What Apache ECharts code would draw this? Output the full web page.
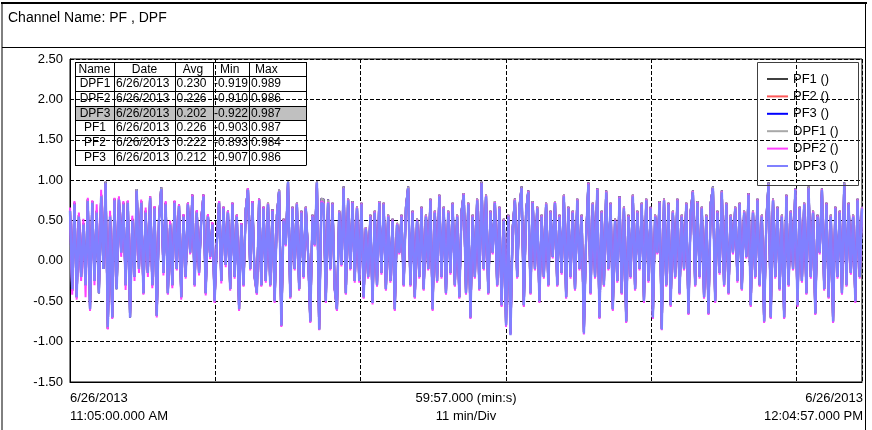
<!DOCTYPE html>
<html><head><meta charset="utf-8">
<script src="https://cdn.jsdelivr.net/npm/echarts@6/dist/echarts.min.js"></script>
<style>html,body{margin:0;padding:0;background:#fff}#c{width:872px;height:430px}</style>
</head><body><div id="c"></div>
<script>
// ---- data ----
const titleText = 'Channel Name: PF , DPF';
const seriesNames = ['PF1 ()', 'PF2 ()', 'PF3 ()', 'DPF1 ()', 'DPF2 ()', 'DPF3 ()'];
const seriesColors = ['#404040', '#ff5a5a', '#0000ff', '#a8a8a8', '#ff40ff', '#8080ff'];
const durationSec = 3597;            // 59:57.000
const divisionSec = 660;             // 11 min/Div
const yMin = -1.5, yMax = 2.5, yStep = 0.5;
const xLabelStart = ['6/26/2013', '11:05:00.000 AM'];
const xLabelMid = ['59:57.000 (min:s)', '11 min/Div'];
const xLabelEnd = ['6/26/2013', '12:04:57.000 PM'];
const tableHeader = ['Name', 'Date', 'Avg', 'Min', 'Max'];
const tableRows = [
  ['DPF1', '6/26/2013', '0.230', '-0.919', '0.989'],
  ['DPF2', '6/26/2013', '0.226', '-0.910', '0.986'],
  ['DPF3', '6/26/2013', '0.202', '-0.922', '0.987'],
  ['PF1', '6/26/2013', '0.226', '-0.903', '0.987'],
  ['PF2', '6/26/2013', '0.222', '-0.893', '0.984'],
  ['PF3', '6/26/2013', '0.212', '-0.907', '0.986']
];
const highlightedRow = 2;

const dpf3Values = [
0.62,-0.35,0.70,-0.45,0.55,-0.20,0.45,-0.30,0.74,-0.60,
0.72,-0.25,0.60,-0.40,0.80,-0.10,0.96,-0.82,0.55,-0.70,
0.75,-0.35,0.76,0.10,0.70,-0.30,0.72,-0.70,0.50,-0.20,
0.87,-0.10,0.72,-0.40,0.60,-0.15,0.78,-0.30,0.65,-0.68,
0.50,0.89,-0.15,0.70,-0.40,0.45,-0.30,0.72,-0.10,0.68,
-0.45,0.55,-0.20,0.70,0.10,0.80,-0.30,0.60,-0.15,0.50,
0.80,-0.40,0.55,0.05,0.45,-0.50,0.20,0.72,-0.25,0.65,
-0.05,0.60,-0.35,0.70,-0.20,0.55,-0.60,0.45,-0.30,0.62,
0.88,-0.10,0.72,-0.20,-0.40,0.75,-0.30,0.65,-0.25,
0.70,-0.30,0.62,-0.50,0.55,0.86,-0.80,0.50,0.20,0.98,
-0.45,0.65,-0.10,0.70,-0.35,0.60,-0.20,0.65,0.10,-0.75,
0.55,0.20,0.97,-0.85,0.72,0.70,-0.50,0.72,-0.10,0.70,
-0.35,-0.60,0.60,-0.05,0.90,-0.40,0.75,-0.10,0.72,-0.25,
0.65,-0.25,0.70,-0.45,0.40,-0.20,0.55,-0.52,0.60,-0.30,
0.72,-0.15,0.70,-0.35,0.55,-0.25,0.50,-0.60,0.45,0.10,
0.55,-0.30,0.65,0.90,-0.30,0.60,-0.45,0.50,-0.20,0.65,
-0.35,0.55,-0.10,0.75,-0.60,0.60,-0.25,0.80,-0.20,0.65,
-0.40,0.60,-0.15,0.70,-0.30,0.55,-0.45,0.60,
0.82,-0.40,0.70,-0.70,0.55,-0.20,0.75,-0.35,0.96,-0.10,
0.80,-0.40,0.60,0.10,0.72,-0.30,0.65,-0.55,0.50,-0.80,
0.55,-0.92,0.40,0.75,-0.20,0.65,0.90,-0.55,0.60,0.85,
-0.40,0.72,-0.10,0.65,-0.50,0.55,-0.20,0.70,-0.30,0.60,
0.05,0.72,-0.30,0.55,-0.15,0.80,-0.45,0.65,-0.20,0.60,
-0.35,0.75,-0.10,0.55,-0.90,0.30,0.95,-0.40,0.70,-0.20,
0.88,-0.70,0.60,-0.30,0.85,-0.10,0.70,-0.60,0.50,-0.25,
0.78,-0.40,0.65,-0.75,0.55,-0.20,0.80,-0.35,0.60,-0.10,
0.70,-0.50,0.75,-0.25,0.65,-0.70,0.55,0.10,0.72,
-0.85,0.75,-0.30,0.70,-0.55,0.60,-0.20,0.75,-0.40,0.55,
-0.10,0.70,-0.65,0.60,0.85,-0.30,0.72,-0.20,0.65,-0.45,
0.55,-0.65,0.70,0.90,-0.50,0.60,-0.15,0.85,-0.30,0.70,
-0.40,0.55,0.10,0.65,-0.25,0.70,-0.35,0.60,0.05,0.82,
-0.55,0.60,-0.20,0.75,-0.30,0.55,-0.75,0.50,0.95,-0.70,
0.75,-0.20,0.65,-0.35,0.55,-0.70,0.80,-0.30,0.60,-0.10,
0.88,-0.55,0.65,-0.25,0.70,-0.40,0.90,-0.20,0.60,-0.65,
0.55,0.10,0.88,-0.35,0.70,-0.45,0.55,-0.75,0.65,-0.20,
0.60,-0.40,0.95,-0.30,0.70,-0.15,0.55,-0.50,0.75,-0.20,
0.65
];

const dpf2Values = [
0.66,-0.42,0.74,-0.48,0.60,-0.25,0.52,-0.45,0.78,-0.62,
0.75,-0.30,0.70,-0.35,0.88,-0.05,0.95,-0.85,0.62,-0.72,
0.78,-0.30,0.80,0.05,0.74,-0.36,0.75,-0.66,0.56,-0.25,
0.86,-0.15,0.76,-0.42,0.66,-0.20,0.80,-0.34,0.68,-0.70,
0.55,0.88,-0.18,0.74,-0.42,0.50,-0.34,0.75,-0.12,0.70,
-0.48,0.58,-0.22,0.72,0.08,0.82,-0.32,0.63,-0.18,0.54,
0.82,-0.43,0.58,0.02,0.48,-0.52,0.22,0.74,-0.28,0.67,
-0.08,0.62,-0.37,0.72,-0.22,0.57,-0.62,0.47,-0.32,0.64,
0.90,-0.12,0.74,-0.22,-0.42,0.77,-0.32,0.67,-0.27,
0.71,-0.32,0.63,-0.52,0.56,0.86,-0.82,0.51,0.18,0.97,
-0.47,0.66,-0.12,0.71,-0.37,0.61,-0.22,0.66,0.08,-0.77,
0.56,0.18,0.96,-0.86,0.74,0.71,-0.52,0.73,-0.12,0.71,
-0.37,-0.62,0.61,-0.07,0.90,-0.42,0.76,-0.12,0.73,-0.27,
0.66,-0.27,0.71,-0.47,0.41,-0.22,0.56,-0.54,0.61,-0.32,
0.73,-0.17,0.71,-0.37,0.56,-0.27,0.51,-0.62,0.46,0.08,
0.56,-0.32,0.66,0.90,-0.32,0.61,-0.47,0.51,-0.22,0.66,
-0.37,0.56,-0.12,0.76,-0.62,0.61,-0.27,0.81,-0.22,0.66,
-0.42,0.61,-0.17,0.71,-0.32,0.56,-0.47,0.61,
0.83,-0.42,0.71,-0.72,0.56,-0.22,0.76,-0.37,0.96,-0.12,
0.81,-0.42,0.61,0.08,0.73,-0.32,0.66,-0.57,0.51,-0.82,
0.56,-0.91,0.41,0.76,-0.22,0.66,0.90,-0.57,0.61,0.86,
-0.42,0.73,-0.12,0.66,-0.52,0.56,-0.22,0.71,-0.32,0.61,
0.03,0.73,-0.32,0.56,-0.17,0.81,-0.47,0.66,-0.22,0.61,
-0.37,0.76,-0.12,0.56,-0.91,0.28,0.96,-0.42,0.71,-0.22,
0.89,-0.72,0.61,-0.32,0.86,-0.12,0.71,-0.62,0.51,-0.27,
0.79,-0.42,0.66,-0.77,0.56,-0.22,0.81,-0.37,0.61,-0.12,
0.71,-0.52,0.76,-0.27,0.66,-0.72,0.56,0.08,0.73,
-0.86,0.76,-0.32,0.71,-0.57,0.61,-0.22,0.76,-0.42,0.56,
-0.12,0.71,-0.67,0.61,0.86,-0.32,0.73,-0.22,0.66,-0.47,
0.56,-0.67,0.71,0.90,-0.52,0.61,-0.17,0.86,-0.32,0.71,
-0.42,0.56,0.08,0.66,-0.27,0.71,-0.37,0.61,0.03,0.83,
-0.57,0.61,-0.22,0.76,-0.32,0.56,-0.77,0.51,0.95,-0.72,
0.76,-0.22,0.66,-0.37,0.56,-0.72,0.81,-0.32,0.61,-0.12,
0.89,-0.57,0.66,-0.27,0.71,-0.42,0.90,-0.22,0.61,-0.67,
0.56,0.08,0.89,-0.37,0.71,-0.47,0.56,-0.77,0.66,-0.22,
0.61,-0.42,0.95,-0.32,0.71,-0.17,0.56,-0.52,0.76,-0.22,
0.66
];

// PF1, PF2, PF3 and DPF1 overlap almost exactly underneath DPF3
const pfValues = [
0.64,-0.37,0.72,-0.45,0.57,-0.20,0.47,-0.30,0.76,-0.60,
0.74,-0.25,0.62,-0.40,0.82,-0.10,0.98,-0.84,0.57,-0.70,
0.77,-0.35,0.78,0.10,0.72,-0.30,0.74,-0.70,0.52,-0.20,
0.89,-0.10,0.74,-0.40,0.62,-0.15,0.80,-0.30,0.67,-0.68,
0.52,0.91,-0.15,0.72,-0.40,0.47,-0.30,0.74,-0.10,0.70,
-0.45,0.57,-0.20,0.72,0.10,0.82,-0.30,0.62,-0.15,0.52,
0.82,-0.40,0.57,0.05,0.47,-0.50,0.22,0.74,-0.25,0.67,
-0.05,0.62,-0.35,0.72,-0.20,0.57,-0.60,0.47,-0.30,0.64,
0.90,-0.10,0.74,-0.20,-0.40,0.77,-0.30,0.67,-0.25,
0.73,-0.30,0.64,-0.50,0.57,0.88,-0.80,0.52,0.20,0.99,
-0.45,0.67,-0.10,0.72,-0.35,0.62,-0.20,0.67,0.10,-0.75,
0.57,0.20,0.98,-0.85,0.77,0.76,-0.50,0.76,-0.10,0.72,
-0.35,-0.60,0.62,-0.05,0.92,-0.40,0.77,-0.10,0.74,-0.25,
0.67,-0.25,0.72,-0.45,0.42,-0.20,0.57,-0.52,0.62,-0.30,
0.74,-0.15,0.72,-0.35,0.57,-0.25,0.52,-0.60,0.47,0.10,
0.57,-0.30,0.67,0.92,-0.30,0.62,-0.45,0.52,-0.20,0.67,
-0.35,0.57,-0.10,0.77,-0.60,0.62,-0.25,0.82,-0.20,0.67,
-0.40,0.62,-0.15,0.72,-0.30,0.57,-0.45,0.62,
0.84,-0.40,0.72,-0.70,0.57,-0.20,0.77,-0.35,0.98,-0.10,
0.82,-0.40,0.62,0.10,0.74,-0.30,0.67,-0.55,0.52,-0.80,
0.57,-0.90,0.42,0.77,-0.20,0.67,0.92,-0.55,0.62,0.87,
-0.40,0.74,-0.10,0.67,-0.50,0.57,-0.20,0.72,-0.30,0.62,
0.05,0.74,-0.30,0.57,-0.15,0.82,-0.45,0.67,-0.20,0.62,
-0.35,0.77,-0.10,0.57,-0.88,0.30,0.97,-0.40,0.72,-0.20,
0.90,-0.70,0.62,-0.30,0.87,-0.10,0.72,-0.60,0.52,-0.25,
0.80,-0.40,0.67,-0.75,0.57,-0.20,0.82,-0.35,0.62,-0.10,
0.72,-0.50,0.77,-0.25,0.67,-0.70,0.57,0.10,0.74,
-0.84,0.77,-0.30,0.72,-0.55,0.62,-0.20,0.77,-0.40,0.57,
-0.10,0.72,-0.65,0.62,0.87,-0.30,0.74,-0.20,0.67,-0.45,
0.57,-0.65,0.72,0.92,-0.50,0.62,-0.15,0.87,-0.30,0.72,
-0.40,0.57,0.10,0.67,-0.25,0.72,-0.35,0.62,0.05,0.84,
-0.55,0.62,-0.20,0.77,-0.30,0.57,-0.75,0.52,0.97,-0.70,
0.77,-0.20,0.67,-0.35,0.57,-0.70,0.82,-0.30,0.62,-0.10,
0.90,-0.55,0.67,-0.25,0.72,-0.40,0.92,-0.20,0.62,-0.65,
0.57,0.10,0.90,-0.35,0.72,-0.45,0.57,-0.75,0.67,-0.20,
0.62,-0.40,0.97,-0.30,0.72,-0.15,0.57,-0.50,0.77,-0.20,
0.67
];

const seriesValues = [pfValues, pfValues, pfValues, pfValues, dpf2Values, dpf3Values];

// ---- chart ----
const FONT = 'Liberation Sans, Arial, sans-serif';
const chart = echarts.init(document.getElementById('c'), null, { renderer: 'canvas' });

function toPairs(values) {
  const n = values.length;
  return values.map((v, i) => [i * durationSec / (n - 1), v]);
}

const series = seriesNames.map((name, k) => ({
  name: name,
  type: 'line',
  data: toPairs(seriesValues[k]),
  symbol: 'none',
  silent: true,
  animation: false,
  color: seriesColors[k],
  lineStyle: { width: k === 5 ? 2.4 : 2, color: seriesColors[k] },
  z: 2 + k
}));

// table graphics
const colX = [75, 114, 175, 213, 249, 306];
const rowY = [62, 76, 91, 106, 120, 135, 150, 165];
const headerX = [{ x: 94.5, a: 'center' }, { x: 144.5, a: 'center' }, { x: 193, a: 'center' }, { x: 220, a: 'left' }, { x: 255, a: 'left' }];
const cellX = [{ x: 95, a: 'center' }, { x: 116, a: 'left' }, { x: 176.5, a: 'left' }, { x: 214, a: 'left' }, { x: 251, a: 'left' }];
const TABLE_FONT = '12px ' + FONT;
const graphics = [];
// frame
graphics.push({ type: 'line', shape: { x1: 1, y1: 3, x2: 867, y2: 3 }, style: { stroke: '#000', lineWidth: 2 }, z: 100 });
graphics.push({ type: 'line', shape: { x1: 2, y1: 3, x2: 2, y2: 430 }, style: { stroke: '#000', lineWidth: 1 }, z: 100 });
graphics.push({ type: 'line', shape: { x1: 865.5, y1: 3, x2: 865.5, y2: 430 }, style: { stroke: '#000', lineWidth: 1 }, z: 100 });
graphics.push({ type: 'line', shape: { x1: 2, y1: 47.5, x2: 866, y2: 47.5 }, style: { stroke: '#000', lineWidth: 1 }, z: 100 });
graphics.push({ type: 'text', x: 8, y: 18, style: { text: titleText, font: '14px ' + FONT, fill: '#000', textVerticalAlign: 'middle' }, z: 100 });
// highlighted row
graphics.push({ type: 'rect', shape: { x: colX[0], y: rowY[highlightedRow + 1], width: colX[5] - colX[0], height: rowY[highlightedRow + 2] - rowY[highlightedRow + 1] }, style: { fill: '#c0c0c0' }, z: 100 });
// table grid
for (let r = 0; r < rowY.length; r++) {
  graphics.push({ type: 'line', shape: { x1: colX[0], y1: rowY[r] + 0.5, x2: colX[5], y2: rowY[r] + 0.5 }, style: { stroke: '#000', lineWidth: 1 }, z: 101 });
}
for (let c = 0; c < colX.length; c++) {
  graphics.push({ type: 'line', shape: { x1: colX[c] + 0.5, y1: rowY[0], x2: colX[c] + 0.5, y2: rowY[rowY.length - 1] + 0.5 }, style: { stroke: '#000', lineWidth: 1 }, z: 101 });
}
tableHeader.forEach((t, c) => {
  graphics.push({ type: 'text', x: headerX[c].x, y: (rowY[0] + rowY[1]) / 2 + 0.5, style: { text: t, font: TABLE_FONT, fill: '#000', textAlign: headerX[c].a, textVerticalAlign: 'middle' }, z: 102 });
});
tableRows.forEach((row, r) => {
  row.forEach((t, c) => {
    graphics.push({ type: 'text', x: cellX[c].x, y: (rowY[r + 1] + rowY[r + 2]) / 2 + 0.5, style: { text: t, font: TABLE_FONT, fill: '#000', textAlign: cellX[c].a, textVerticalAlign: 'middle' }, z: 102 });
  });
});
// legend box
graphics.push({ type: 'rect', shape: { x: 757.5, y: 62.5, width: 101, height: 123 }, style: { fill: 'none', stroke: '#404040', lineWidth: 1 }, z: 100 });
// x-axis labels
function xText(lines, x, align) {
  lines.forEach((t, i) => {
    graphics.push({ type: 'text', x: x, y: 398 + i * 18.5, style: { text: t, font: '13px ' + FONT, fill: '#000', textAlign: align, textVerticalAlign: 'middle' }, z: 100 });
  });
}
xText(xLabelStart, 70, 'left');
xText(xLabelMid, 466, 'center');
xText(xLabelEnd, 863, 'right');

const dashed = { show: true, lineStyle: { color: '#000', type: [4, 2], width: 1 } };

chart.setOption({
  animation: false,
  backgroundColor: '#fff',
  textStyle: { fontFamily: FONT },
  grid: { left: 70, right: 10, top: 59, bottom: 48, show: true, borderColor: '#000', borderWidth: 1, backgroundColor: 'transparent' },
  legend: {
    orient: 'vertical', left: 767, top: 72, padding: 0,
    itemWidth: 21, itemHeight: 2, itemGap: 3.4, icon: 'rect',
    textStyle: { fontSize: 13, color: '#000', fontFamily: FONT, lineHeight: 14 },
    data: seriesNames.map((n, k) => ({ name: n, itemStyle: { color: seriesColors[k] } })),
    selectedMode: false
  },
  xAxis: {
    type: 'value', min: 0, max: durationSec, interval: divisionSec,
    axisLine: { show: true, onZero: false, lineStyle: { color: '#000' } },
    axisTick: { show: false }, axisLabel: { show: false },
    splitLine: dashed
  },
  yAxis: {
    type: 'value', min: yMin, max: yMax, interval: yStep,
    axisLine: { show: true, lineStyle: { color: '#000' } },
    axisTick: { show: false },
    axisLabel: { color: '#000', fontSize: 13, fontFamily: FONT, margin: 7, formatter: v => v.toFixed(2) },
    splitLine: dashed
  },
  series: series,
  graphic: graphics
});
</script></body></html>
